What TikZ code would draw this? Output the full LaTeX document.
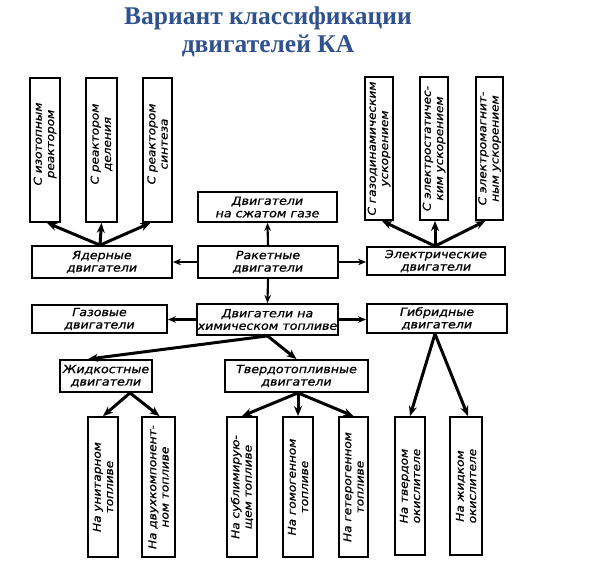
\documentclass[tikz,border=0pt]{standalone}
\usepackage{fontspec}
\setmainfont{Liberation Serif}
\newfontfamily\gost[FakeStretch=1.12,FakeBold=0.8]{DejaVu Sans}
\usetikzlibrary{arrows.meta}
\definecolor{titleblue}{RGB}{47,82,143}
\tikzset{
  box/.style={draw, line width=1.8pt, inner sep=0pt},
  htext/.style={font=\gost\itshape\fontsize{11.3}{12.5}\selectfont, align=center, inner sep=0pt},
  vtext/.style={font=\gost\itshape\fontsize{10.8}{12.3}\selectfont, align=center, inner sep=0pt, rotate=90},
  bigarrow/.style={line width=3pt, -{Stealth[length=10pt,width=8pt]}},
  smallarrow/.style={line width=2.1pt, -{Stealth[length=8pt,width=6.5pt]}},
}
\begin{document}
\begin{tikzpicture}[x=1pt,y=-1pt]
\useasboundingbox (0,0) rectangle (600,563);
% title
\node[font=\bfseries\fontsize{25.5}{28.5}\selectfont, text=titleblue, align=center] (title) at (268,32) {Вариант классификации\\двигателей КА};

% boxes: centers and sizes
\node[box, minimum width=30, minimum height=144] (iso) at (45,150) {};
\node[box, minimum width=31, minimum height=144] (del) at (101.5,150) {};
\node[box, minimum width=29, minimum height=144] (sint) at (157.5,150) {};
\node[box, minimum width=140, minimum height=32] (yad) at (102,262) {};

\node[box, minimum width=28, minimum height=143] (gd) at (379,148.5) {};
\node[box, minimum width=28, minimum height=143] (es) at (434,148.5) {};
\node[box, minimum width=27, minimum height=143] (em) at (489.5,148.5) {};
\node[box, minimum width=138, minimum height=28] (el) at (436,261) {};

\node[box, minimum width=139, minimum height=30] (szh) at (267.5,207) {};
\node[box, minimum width=140, minimum height=32] (rak) at (268,262) {};
\node[box, minimum width=141, minimum height=31] (him) at (267.5,319.5) {};
\node[box, minimum width=135, minimum height=28] (gaz) at (99.5,319) {};
\node[box, minimum width=140, minimum height=29] (gib) at (437,318.5) {};

\node[box, minimum width=92, minimum height=32] (zhid) at (106,376) {};
\node[box, minimum width=143, minimum height=32] (tverd) at (296.5,376) {};

\node[box, minimum width=30, minimum height=140] (unit) at (103,487) {};
\node[box, minimum width=33, minimum height=140] (dvuh) at (158.5,487) {};
\node[box, minimum width=30, minimum height=140] (subl) at (242,487) {};
\node[box, minimum width=30, minimum height=140] (gomo) at (298,487) {};
\node[box, minimum width=29, minimum height=140] (heter) at (353.5,487) {};
\node[box, minimum width=30, minimum height=138] (tvok) at (410,486) {};
\node[box, minimum width=32, minimum height=138] (zhok) at (466,486) {};

% texts
\node[vtext] (iso-t) at ([yshift=6]iso.center) {С изотопным\\реактором};
\node[vtext] (del-t) at ([yshift=6]del.center) {С реактором\\деления};
\node[vtext] (sint-t) at ([yshift=6]sint.center) {С реактором\\синтеза};
\node[htext] (yad-t) at (yad) {Ядерные\\двигатели};

\node[vtext] (gd-t) at (gd) {С газодинамическим\\ускорением};
\node[vtext] (es-t) at (es) {С электростатичес-\\ким ускорением};
\node[vtext] (em-t) at (em) {С электромагнит-\\ным ускорением};
\node[htext] (el-t) at (el) {Электрические\\двигатели};

\node[htext] (szh-t) at (szh) {Двигатели\\на сжатом газе};
\node[htext] (rak-t) at (rak) {Ракетные\\двигатели};
\node[htext] (him-t) at (him) {Двигатели на\\химическом топливе};
\node[htext] (gaz-t) at (gaz) {Газовые\\двигатели};
\node[htext] (gib-t) at (gib) {Гибридные\\двигатели};
\node[htext] (zhid-t) at (zhid) {Жидкостные\\двигатели};
\node[htext] (tverd-t) at (tverd) {Твердотопливные\\двигатели};

\node[vtext] (unit-t) at (unit) {На унитарном\\топливе};
\node[vtext] (dvuh-t) at (dvuh) {На двухкомпонент-\\ном топливе};
\node[vtext] (subl-t) at (subl) {На сублимирую-\\щем топливе};
\node[vtext] (gomo-t) at (gomo) {На гомогенном\\топливе};
\node[vtext] (heter-t) at (heter) {На гетерогенном\\топливе};
\node[vtext] (tvok-t) at (tvok) {На твердом\\окислителе};
\node[vtext] (zhok-t) at (zhok) {На жидком\\окислителе};

% connectors
\draw[smallarrow] (rak.north) -- (szh.south);
\draw[smallarrow] (rak.south) -- (him.north);
\draw[smallarrow] (rak.west) -- (yad.east);
\draw[smallarrow] (rak.east) -- (el.west |- rak.east);
\draw[smallarrow] (him.west) -- (gaz.east |- him.west);
\draw[smallarrow] (him.east) -- (gib.west |- him.east);

\draw[bigarrow] ([xshift=-2]yad.north) -- ([xshift=2]iso.south);
\draw[bigarrow] ([xshift=-2]yad.north) -- (del.south);
\draw[bigarrow] ([xshift=-2]yad.north) -- ([xshift=-7]sint.south);

\draw[bigarrow] ([xshift=-1]el.north) -- ([xshift=3]gd.south);
\draw[bigarrow] ([xshift=-1]el.north) -- ([xshift=1]es.south);
\draw[bigarrow] ([xshift=-1]el.north) -- ([xshift=-4]em.south);

\draw[bigarrow] (him.south) -- ([xshift=-18]zhid.north);
\draw[bigarrow] (him.south) -- (tverd.north);

\draw[bigarrow] ([xshift=24]zhid.south) -- (unit.north);
\draw[bigarrow] ([xshift=24]zhid.south) -- ([xshift=1]dvuh.north);

\draw[bigarrow] ([xshift=1.5]tverd.south) -- (subl.north);
\draw[bigarrow] ([xshift=1.5]tverd.south) -- (gomo.north);
\draw[bigarrow] ([xshift=1.5]tverd.south) -- (heter.north);

\draw[bigarrow] ([xshift=-2]gib.south) -- (tvok.north);
\draw[bigarrow] ([xshift=-2]gib.south) -- ([xshift=2]zhok.north);
\end{tikzpicture}
\end{document}
